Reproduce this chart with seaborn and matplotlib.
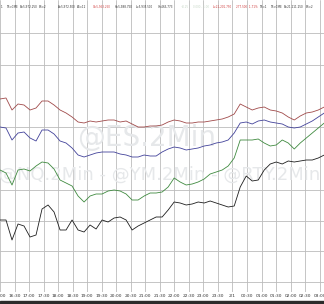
import numpy as np
import pandas as pd
import matplotlib
matplotlib.use("Agg")
import matplotlib.pyplot as plt
from matplotlib.patches import Rectangle
import seaborn as sns

# ---------------- data (levels, screen-position units, 0 = top) -------------
minutes = np.arange(55) * 12.4  # minutes after 16:00, one reading every ~12 minutes

es_level = [99, 98, 110, 104, 105, 110, 108, 101, 101, 105, 110, 113, 117, 122, 123, 121, 122, 121,
            120, 120, 122, 121, 124, 127, 127, 126, 126, 125, 122, 120, 121, 123, 123, 122, 122, 121,
            120, 119, 117, 114, 104, 107, 110, 108, 107, 110, 111, 113, 117, 120, 116, 113, 112, 110, 107]
nq_level = [127, 128, 140, 133, 132, 138, 141, 130, 130, 134, 141, 143, 148, 155, 157, 155, 153, 152,
            152, 152, 154, 155, 157, 157, 155, 156, 156, 152, 149, 147, 148, 150, 149, 148, 146, 145,
            143, 142, 140, 133, 123, 122, 124, 121, 120, 122, 123, 124, 127, 128, 127, 124, 121, 117, 113]
ym_level = [170, 173, 185, 170, 169, 171, 166, 162, 163, 169, 180, 183, 186, 196, 202, 196, 194, 194,
            191, 190, 191, 194, 200, 200, 196, 193, 193, 192, 187, 178, 182, 185, 184, 182, 179, 174,
            172, 170, 166, 158, 140, 140, 140, 139, 143, 146, 145, 140, 143, 149, 143, 138, 133, 128, 123]
rty_level = [220, 220, 240, 224, 226, 237, 235, 209, 205, 212, 230, 230, 220, 230, 232, 225, 229, 220,
             222, 218, 217, 220, 230, 226, 223, 220, 217, 217, 210, 202, 203, 205, 204, 202, 203, 201,
             203, 205, 207, 206, 187, 176, 181, 180, 170, 164, 162, 164, 161, 162, 161, 160, 160, 158, 155]

symbols = ["@ES.2Min", "@NQ.2Min", "@YM.2Min", "@RTY.2Min"]
line_colors = ["#a04a4a", "#42429a", "#3f8a3f", "#1e1e1e"]

tick_minutes = list(range(0, 661, 30))
tick_labels = ["16:00", "16:30", "17:00", "17:30", "18:00", "18:30", "19:00", "19:30", "20:00",
               "20:30", "21:00", "21:30", "22:00", "22:30", "23:00", "23:30", "2/1", "00:30",
               "01:00", "01:30", "02:00", "02:30", "03:00"]
grid_rows = [33, 65, 127, 190, 221, 251, 282]

header_items = [
    ("1", 1, "#333333"), ("TS=CME", 7, "#333333"), ("B=5,972.250", 20, "#333333"),
    ("BS=2", 39, "#333333"), ("A=5,972.500", 58, "#333333"), ("AS=12", 77, "#333333"),
    ("O=5,953.250", 93, "#d04040"), ("H=5,988.750", 115, "#333333"),
    ("L=5,935.500", 136, "#333333"), ("V=463,773", 158, "#333333"),
    ("+0.25", 181, "#c8d8c8"), ("0.000 - 1.00", 193, "#c8d8c8"),
    ("L=21,201.750", 213, "#d04040"), ("-277.500", 236, "#d04040"), ("-1.71%", 249, "#d04040"),
    ("TS=1", 260, "#333333"), ("TS=CME", 271, "#333333"), ("B=21,211.250", 284, "#333333"),
    ("BS=2", 306, "#333333"),
]

# ---------------- build table ----------------
df = pd.concat([
    pd.DataFrame({"minute": minutes, "level": vals, "symbol": sym})
    for sym, vals in zip(symbols, [es_level, nq_level, ym_level, rty_level])
], ignore_index=True)

sns.set_style("white")
plt.rcParams["font.family"] = ["DejaVu Sans"]

fig = plt.figure(figsize=(3.24, 3.04), dpi=100)
ax = fig.add_axes([0, 12 / 304, 1, 292 / 304])

sns.lineplot(data=df, x="minute", y="level", hue="symbol", hue_order=symbols,
             palette=line_colors, linewidth=0.6, legend=False, ax=ax, zorder=3)

ax.set_xlim(0, 669)
ax.set_ylim(292, 0)
ax.set_xticks(tick_minutes)
ax.set_xticklabels(tick_labels)
ax.set_yticks(grid_rows)
ax.set_yticklabels([])
ax.grid(True, color="#bcbcbc", linewidth=0.6)
ax.set_axisbelow(True)
ax.tick_params(length=0, pad=1.2, labelsize=3.2, colors="#333333")
for sp in ax.spines.values():
    sp.set_visible(False)
ax.set_xlabel("")
ax.set_ylabel("")

# watermarks
ax.text(302, 138, "@ES.2Min", fontsize=20, color="#e6e8ea", ha="center", va="center",
        zorder=1)
ax.text(330, 175, "@NQ.2Min - @YM.2Min - @RTY.2Min", fontsize=13, color="#e6e8ea",
        ha="center", va="center", zorder=1)

# header
for txt, xpx, col in header_items:
    fig.text(xpx / 324, 1 - 7 / 304, txt, fontsize=2.0, color=col, ha="left", va="center")

# bottom dark strip
fig.patches.append(Rectangle((0, 0), 1, 3.5 / 304, transform=fig.transFigure,
                             color="#2b2b2b", zorder=5))

fig.savefig("out.png", dpi=100)
